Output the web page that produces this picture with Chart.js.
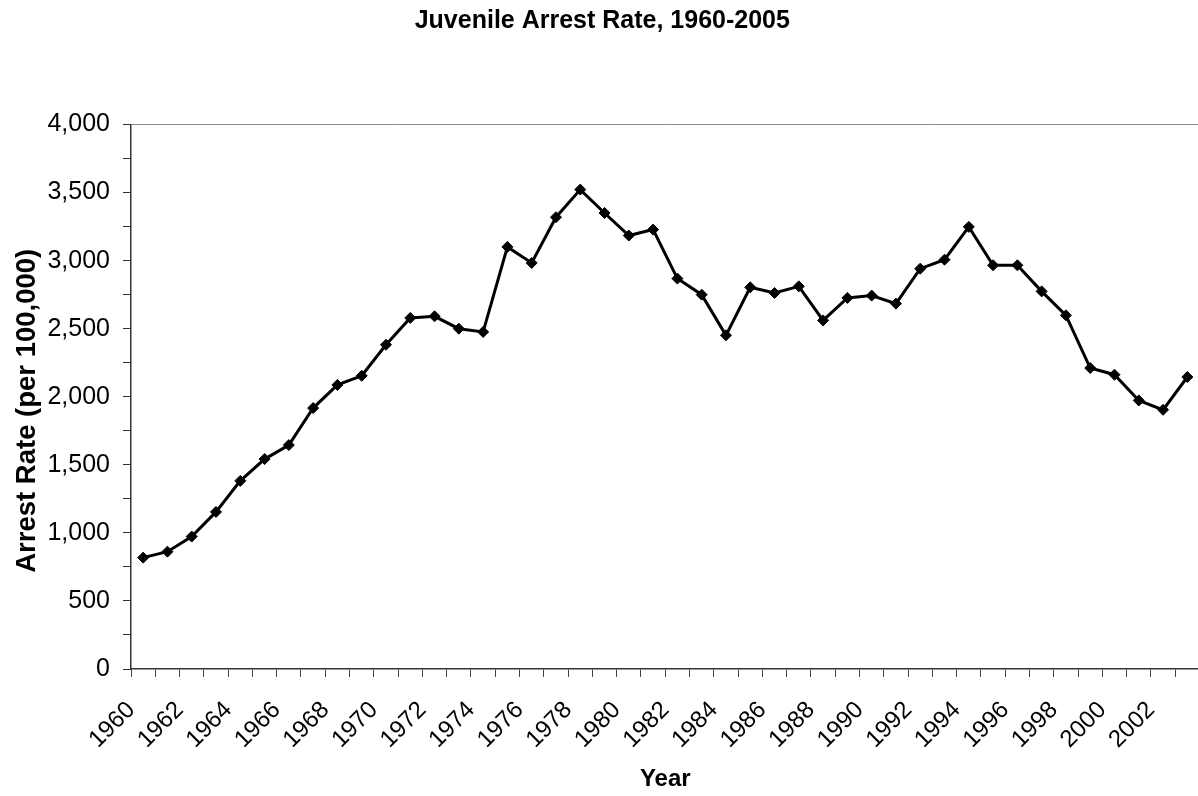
<!DOCTYPE html>
<html>
<head>
<meta charset="utf-8">
<script src="https://cdn.jsdelivr.net/npm/chart.js@4"></script>
<style>
  html, body { margin: 0; padding: 0; background: #fff; overflow: hidden; }
  canvas { display: block; }
</style>
</head>
<body>
<canvas id="c" width="1206" height="796"></canvas>
<script>
const chartTitle = 'Juvenile Arrest Rate, 1960-2005';
const xTitle = 'Year';
const yTitle = 'Arrest Rate (per 100,000)';
const years = ['1960','1961','1962','1963','1964','1965','1966','1967','1968','1969',
               '1970','1971','1972','1973','1974','1975','1976','1977','1978','1979',
               '1980','1981','1982','1983','1984','1985','1986','1987','1988','1989',
               '1990','1991','1992','1993','1994','1995','1996','1997','1998','1999',
               '2000','2001','2002','2003'];
const arrestRate = [818, 862, 973, 1154, 1382, 1542, 1645, 1917, 2087, 2154,
                    2382, 2579, 2591, 2500, 2476, 3101, 2983, 3319, 3522, 3350,
                    3184, 3228, 2868, 2750, 2451, 2804, 2762, 2811, 2561, 2726,
                    2743, 2684, 2941, 3007, 3248, 2966, 2966, 2774, 2598, 2211,
                    2162, 1973, 1904, 2145];
const yMin = 0, yMax = 4000, yMinorStep = 250, yLabelStep = 500;
const xLabelEvery = 2;

const FONT = "Arial, 'Liberation Sans', sans-serif";
const X_AXIS_HEIGHT = 127;
const Y_AXIS_WIDTH = 131;

// y-axis title drawn slightly below the plot's centre, as in the reference
const yTitlePlugin = {
  id: 'yTitlePlugin',
  afterDraw(chart) {
    const ctx = chart.ctx;
    const area = chart.chartArea;
    ctx.save();
    ctx.translate(27, (area.top + area.bottom) / 2 + 14);
    ctx.rotate(-Math.PI / 2);
    ctx.font = "bold 27.5px " + FONT;
    ctx.fillStyle = '#000';
    ctx.textAlign = 'center';
    ctx.textBaseline = 'middle';
    ctx.fillText(yTitle, 0, 0);
    ctx.restore();
  }
};

new Chart(document.getElementById('c'), {
  type: 'line',
  data: {
    labels: years,
    datasets: [{
      data: arrestRate,
      borderColor: '#000',
      backgroundColor: '#000',
      borderWidth: 3,
      tension: 0,
      pointStyle: 'rectRot',
      pointRadius: 5.5,
      pointBackgroundColor: '#000',
      pointBorderColor: '#000',
      pointBorderWidth: 1,
      fill: false
    }]
  },
  plugins: [yTitlePlugin],
  options: {
    responsive: false,
    animation: false,
    layout: { padding: { left: 0, right: 1.4, top: 0, bottom: 0 } },
    plugins: {
      legend: { display: false },
      tooltip: { enabled: false },
      title: {
        display: true,
        text: chartTitle,
        color: '#000',
        font: { family: FONT, size: 25, weight: 'bold' },
        padding: { top: 6, bottom: 88.5 }
      }
    },
    scales: {
      x: {
        type: 'category',
        offset: true,
        afterFit: (s) => { s.height = X_AXIS_HEIGHT; s.paddingLeft = 0; s.paddingRight = 0; },
        border: { display: true, color: '#333', width: 1.5 },
        grid: {
          display: true,
          offset: true,
          drawOnChartArea: false,
          drawTicks: true,
          tickLength: 8,
          tickColor: '#444'
        },
        ticks: {
          autoSkip: false,
          maxRotation: 45,
          minRotation: 45,
          color: '#000',
          padding: 19,
          labelOffset: -12,
          font: { family: FONT, size: 24 },
          callback: function (value, index) {
            return index % xLabelEvery === 0 ? this.getLabelForValue(value) : '';
          }
        },
        title: {
          display: true,
          text: xTitle,
          color: '#000',
          font: { family: FONT, size: 24, weight: 'bold' },
          padding: { top: 4, bottom: 2.6 }
        }
      },
      y: {
        min: yMin,
        max: yMax,
        afterFit: (s) => { s.width = Y_AXIS_WIDTH; },
        border: { display: true, color: '#333', width: 1.5 },
        grid: {
          display: true,
          drawOnChartArea: true,
          drawTicks: true,
          tickLength: 8,
          tickColor: '#333',
          color: (ctx) => (ctx.tick && ctx.tick.value === yMax) ? '#888' : 'rgba(0,0,0,0)'
        },
        ticks: {
          stepSize: yMinorStep,
          autoSkip: false,
          color: '#000',
          padding: 13,
          font: { family: FONT, size: 25 },
          callback: (v) => (v % yLabelStep === 0) ? v.toLocaleString('en-US') : ''
        },
        title: { display: false }
      }
    }
  }
});
</script>
</body>
</html>
